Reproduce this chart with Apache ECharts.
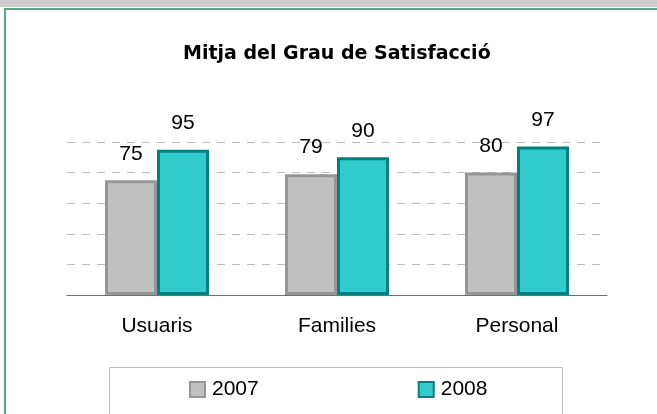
<!DOCTYPE html>
<html>
<head>
<meta charset="utf-8">
<title>Mitja del Grau de Satisfacció</title>
<script src="https://cdn.jsdelivr.net/npm/echarts@6/dist/echarts.min.js"></script>
<style>
html,body{margin:0;padding:0;background:#fff;}
#chart{width:657px;height:414px;}
</style>
</head>
<body>
<div id="chart"></div>
<script>
// dades
var categories = ["Usuaris", "Families", "Personal"];
var years = ["2007", "2008"];
var vals2007 = [75, 79, 80];
var vals2008 = [95, 90, 97];

var FONT = "Liberation Sans, Arial, sans-serif";
var myChart = echarts.init(document.getElementById("chart"));

function barSerie(name, data, fill, border){
	return {
		name: name,
		type: "bar",
		data: data,
		barWidth: 52,
		barGap: "0%",
		itemStyle: {color: fill, borderColor: border, borderWidth: 3},
		label: {
			show: true,
			position: "top",
			distance: 16,
			color: "#000",
			fontSize: 21,
			fontFamily: FONT
		},
		emphasis: {disabled: true}
	};
}

option = {
	backgroundColor: "#fff",
	animation: false,
	title: {
		text: "Mitja del Grau de Satisfacció",
		left: 178,
		top: 40,
		textStyle: {fontSize: 19, fontWeight: "bold", color: "#000", fontFamily: "DejaVu Sans"}
	},
	legend: {
		data: years,
		left: 184,
		top: 374,
		itemWidth: 15,
		itemHeight: 15,
		itemGap: 159,
		icon: "rect",
		textStyle: {fontSize: 21, color: "#000", fontFamily: FONT, padding: [0, 0, 0, 2]}
	},
	grid: {left: 67, right: 50, top: 142, bottom: 119},
	xAxis: {
		type: "category",
		data: categories,
		axisLine: {lineStyle: {color: "#707070", width: 1}},
		axisTick: {length: 5, lineStyle: {color: "#707070"}},
		axisLabel: {fontSize: 21, color: "#000", margin: 21, fontFamily: FONT}
	},
	yAxis: {
		type: "value",
		min: 0,
		max: 100,
		interval: 20,
		axisLine: {show: false},
		axisTick: {show: false},
		axisLabel: {show: false},
		splitLine: {lineStyle: {color: "#BABABA", type: [8, 7], width: 1}}
	},
	graphic: [
		{type: "rect", shape: {x: 0, y: 0, width: 657, height: 7}, style: {fill: "#CCCCCC"}, silent: true},
		{type: "polyline", shape: {points: [[5, 420], [5, 9], [657, 9]]}, style: {stroke: "#4FAE7C", lineWidth: 2, fill: null}, silent: true},
		{type: "rect", shape: {x: 109.5, y: 367.5, width: 453, height: 60}, style: {fill: null, stroke: "#BBBBBB", lineWidth: 1}, silent: true, z: -1}
	],
	series: [
		barSerie(years[0], vals2007, "#C0C0C0", "#969696"),
		barSerie(years[1], vals2008, "#33CCCC", "#008080")
	]
};
myChart.setOption(option);
</script>
</body>
</html>
